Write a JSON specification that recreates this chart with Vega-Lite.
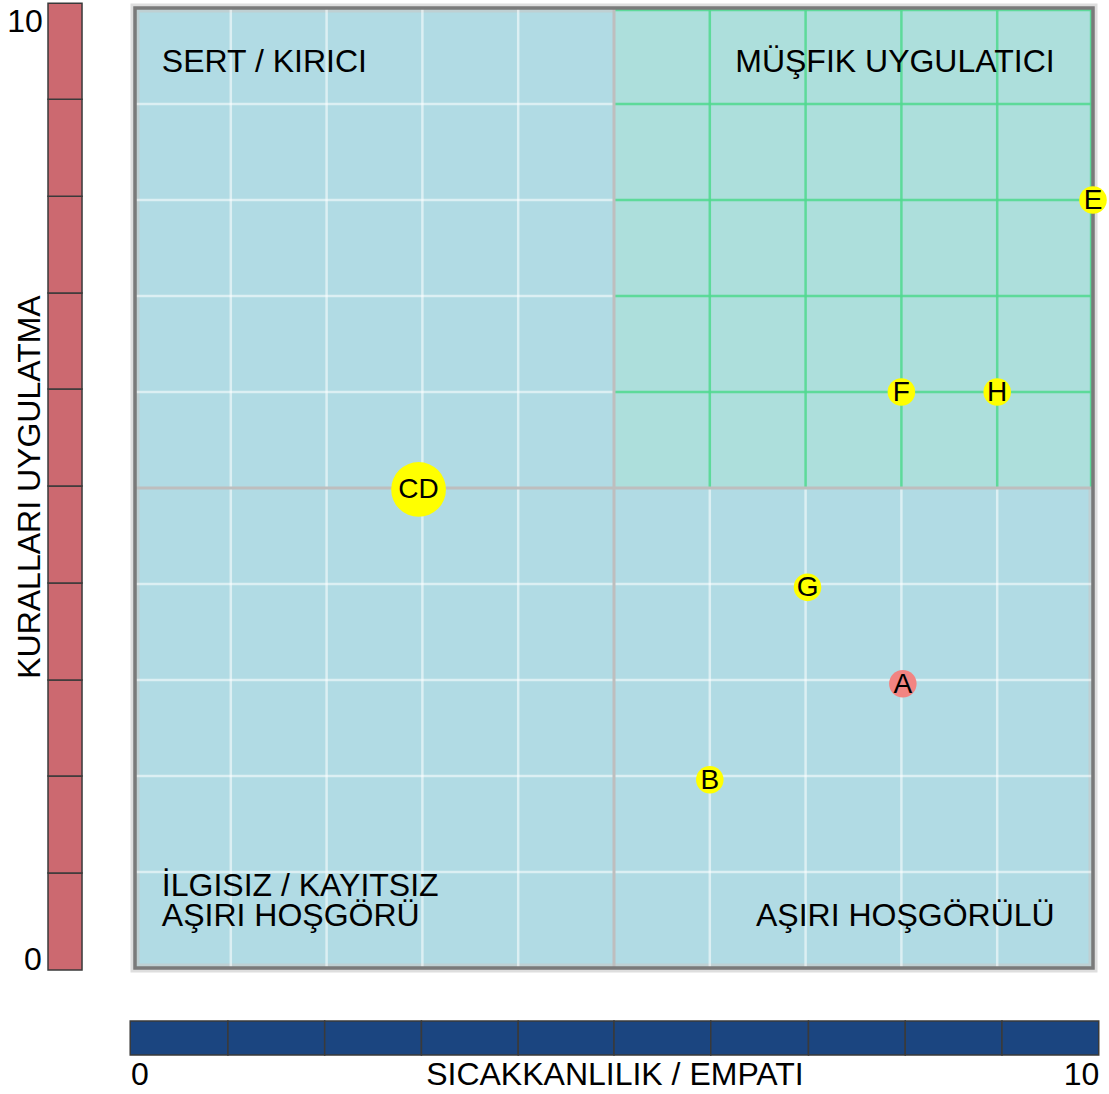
{
  "$schema": "https://vega.github.io/schema/vega-lite/v6.json",
  "width": 958,
  "height": 960,
  "autosize": {"type": "none"},
  "padding": {"left": 135, "top": 8, "right": 16, "bottom": 126},
  "config": {"view": {"stroke": null}, "font": "Liberation Sans"},
  "datasets": {
    "regions": [
      {"x": 0, "x2": 10, "y": 0, "y2": 10, "part": "plot"},
      {"x": 5, "x2": 10, "y": 5, "y2": 10, "part": "green"}
    ],
    "grid": [
      {"x": 1, "x2": 1, "y": 0, "y2": 10, "kind": "white"},
      {"x": 2, "x2": 2, "y": 0, "y2": 10, "kind": "white"},
      {"x": 3, "x2": 3, "y": 0, "y2": 10, "kind": "white"},
      {"x": 4, "x2": 4, "y": 0, "y2": 10, "kind": "white"},
      {"x": 6, "x2": 6, "y": 0, "y2": 5, "kind": "white"},
      {"x": 7, "x2": 7, "y": 0, "y2": 5, "kind": "white"},
      {"x": 8, "x2": 8, "y": 0, "y2": 5, "kind": "white"},
      {"x": 9, "x2": 9, "y": 0, "y2": 5, "kind": "white"},
      {"x": 0, "x2": 10, "y": 1, "y2": 1, "kind": "white"},
      {"x": 0, "x2": 10, "y": 2, "y2": 2, "kind": "white"},
      {"x": 0, "x2": 10, "y": 3, "y2": 3, "kind": "white"},
      {"x": 0, "x2": 10, "y": 4, "y2": 4, "kind": "white"},
      {"x": 0, "x2": 5, "y": 6, "y2": 6, "kind": "white"},
      {"x": 0, "x2": 5, "y": 7, "y2": 7, "kind": "white"},
      {"x": 0, "x2": 5, "y": 8, "y2": 8, "kind": "white"},
      {"x": 0, "x2": 5, "y": 9, "y2": 9, "kind": "white"},
      {"x": 6, "x2": 6, "y": 5, "y2": 10, "kind": "green"},
      {"x": 7, "x2": 7, "y": 5, "y2": 10, "kind": "green"},
      {"x": 8, "x2": 8, "y": 5, "y2": 10, "kind": "green"},
      {"x": 9, "x2": 9, "y": 5, "y2": 10, "kind": "green"},
      {"x": 9.98, "x2": 9.98, "y": 5, "y2": 10, "kind": "green"},
      {"x": 5, "x2": 10, "y": 6, "y2": 6, "kind": "green"},
      {"x": 5, "x2": 10, "y": 7, "y2": 7, "kind": "green"},
      {"x": 5, "x2": 10, "y": 8, "y2": 8, "kind": "green"},
      {"x": 5, "x2": 10, "y": 9, "y2": 9, "kind": "green"},
      {"x": 5, "x2": 10, "y": 9.98, "y2": 9.98, "kind": "green"},
      {"x": 5, "x2": 5, "y": 0, "y2": 10, "kind": "gray"},
      {"x": 0, "x2": 10, "y": 5, "y2": 5, "kind": "gray"}
    ],
    "bars": [
      {"x": -0.908, "x2": -0.553, "y": -0.02, "y2": 0.99, "bar": "rules"},
      {"x": -0.908, "x2": -0.553, "y": 0.99, "y2": 2.0, "bar": "rules"},
      {"x": -0.908, "x2": -0.553, "y": 2.0, "y2": 3.0, "bar": "rules"},
      {"x": -0.908, "x2": -0.553, "y": 3.0, "y2": 4.01, "bar": "rules"},
      {"x": -0.908, "x2": -0.553, "y": 4.01, "y2": 5.02, "bar": "rules"},
      {"x": -0.908, "x2": -0.553, "y": 5.02, "y2": 6.03, "bar": "rules"},
      {"x": -0.908, "x2": -0.553, "y": 6.03, "y2": 7.03, "bar": "rules"},
      {"x": -0.908, "x2": -0.553, "y": 7.03, "y2": 8.04, "bar": "rules"},
      {"x": -0.908, "x2": -0.553, "y": 8.04, "y2": 9.05, "bar": "rules"},
      {"x": -0.908, "x2": -0.553, "y": 9.05, "y2": 10.05, "bar": "rules"},
      {"x": -0.05, "x2": 0.97, "y": -0.906, "y2": -0.552, "bar": "warmth"},
      {"x": 0.97, "x2": 1.98, "y": -0.906, "y2": -0.552, "bar": "warmth"},
      {"x": 1.98, "x2": 2.99, "y": -0.906, "y2": -0.552, "bar": "warmth"},
      {"x": 2.99, "x2": 4.0, "y": -0.906, "y2": -0.552, "bar": "warmth"},
      {"x": 4.0, "x2": 5.0, "y": -0.906, "y2": -0.552, "bar": "warmth"},
      {"x": 5.0, "x2": 6.01, "y": -0.906, "y2": -0.552, "bar": "warmth"},
      {"x": 6.01, "x2": 7.03, "y": -0.906, "y2": -0.552, "bar": "warmth"},
      {"x": 7.03, "x2": 8.04, "y": -0.906, "y2": -0.552, "bar": "warmth"},
      {"x": 8.04, "x2": 9.05, "y": -0.906, "y2": -0.552, "bar": "warmth"},
      {"x": 9.05, "x2": 10.06, "y": -0.906, "y2": -0.552, "bar": "warmth"}
    ],
    "points": [
      {"label": "CD", "warmth": 2.96, "rules": 4.985, "count": 2, "group": "other"},
      {"label": "E", "warmth": 10, "rules": 8, "count": 1, "group": "other"},
      {"label": "F", "warmth": 8, "rules": 6, "count": 1, "group": "other"},
      {"label": "H", "warmth": 9, "rules": 6, "count": 1, "group": "other"},
      {"label": "G", "warmth": 7.02, "rules": 3.965, "count": 1, "group": "other"},
      {"label": "A", "warmth": 8.015, "rules": 2.96, "count": 1, "group": "self"},
      {"label": "B", "warmth": 6.0, "rules": 1.96, "count": 1, "group": "other"}
    ],
    "quadrants": [
      {"text": "SERT / KIRICI", "x": 0.28, "y": 9.33, "align": "left"},
      {"text": "MÜŞFIK UYGULATICI", "x": 9.6, "y": 9.33, "align": "right"},
      {"text": "İLGISIZ / KAYITSIZ\nAŞIRI HOŞGÖRÜ", "x": 0.28, "y": 0.75, "align": "left"},
      {"text": "AŞIRI HOŞGÖRÜLÜ", "x": 9.6, "y": 0.44, "align": "right"}
    ],
    "ticks": [
      {"text": "10", "x": -1.148, "y": 9.85},
      {"text": "0", "x": -1.065, "y": 0.08},
      {"text": "0", "x": 0.05, "y": -1.115},
      {"text": "10", "x": 9.88, "y": -1.115},
      {"text": "SICAKKANLILIK / EMPATI", "x": 5.01, "y": -1.115}
    ],
    "ytitle": [
      {"text": "KURALLARI UYGULATMA", "x": -1.096, "y": 5.01}
    ]
  },
  "layer": [
    {
      "data": {"name": "regions"},
      "transform": [{"filter": "datum.part == 'plot'"}],
      "mark": {"type": "rect", "fill": "#B1DBE4", "stroke": "#C8C8C8", "strokeWidth": 9, "strokeOpacity": 0.6},
      "encoding": {
        "x": {"field": "x", "type": "quantitative", "scale": {"domain": [0, 10], "nice": false, "zero": false}, "axis": null},
        "x2": {"field": "x2"},
        "y": {"field": "y", "type": "quantitative", "scale": {"domain": [0, 10], "nice": false, "zero": false}, "axis": null},
        "y2": {"field": "y2"}
      }
    },
    {
      "data": {"name": "grid"},
      "transform": [{"filter": "datum.kind == 'white'"}],
      "mark": {"type": "rule", "stroke": "#FFFFFF", "strokeOpacity": 0.55, "strokeWidth": 2.5},
      "encoding": {
        "x": {"field": "x", "type": "quantitative"},
        "x2": {"field": "x2"},
        "y": {"field": "y", "type": "quantitative"},
        "y2": {"field": "y2"}
      }
    },
    {
      "data": {"name": "regions"},
      "transform": [{"filter": "datum.part == 'green'"}],
      "mark": {"type": "rect", "fill": "#ADDFDC"},
      "encoding": {
        "x": {"field": "x", "type": "quantitative"},
        "x2": {"field": "x2"},
        "y": {"field": "y", "type": "quantitative"},
        "y2": {"field": "y2"}
      }
    },
    {
      "data": {"name": "grid"},
      "transform": [{"filter": "datum.kind == 'green'"}],
      "mark": {"type": "rule", "stroke": "#4FD98E", "strokeOpacity": 0.85, "strokeWidth": 2.5},
      "encoding": {
        "x": {"field": "x", "type": "quantitative"},
        "x2": {"field": "x2"},
        "y": {"field": "y", "type": "quantitative"},
        "y2": {"field": "y2"}
      }
    },
    {
      "data": {"name": "grid"},
      "transform": [{"filter": "datum.kind == 'gray'"}],
      "mark": {"type": "rule", "stroke": "#BEBEBE", "strokeWidth": 3},
      "encoding": {
        "x": {"field": "x", "type": "quantitative"},
        "x2": {"field": "x2"},
        "y": {"field": "y", "type": "quantitative"},
        "y2": {"field": "y2"}
      }
    },
    {
      "data": {"name": "regions"},
      "transform": [{"filter": "datum.part == 'plot'"}],
      "mark": {"type": "rect", "fill": null, "stroke": "#7A7A7A", "strokeWidth": 3.5},
      "encoding": {
        "x": {"field": "x", "type": "quantitative"},
        "x2": {"field": "x2"},
        "y": {"field": "y", "type": "quantitative"},
        "y2": {"field": "y2"}
      }
    },
    {
      "data": {"name": "bars"},
      "mark": {"type": "rect", "stroke": "#3A3A3A", "strokeWidth": 1.5},
      "encoding": {
        "x": {"field": "x", "type": "quantitative"},
        "x2": {"field": "x2"},
        "y": {"field": "y", "type": "quantitative"},
        "y2": {"field": "y2"},
        "fill": {"field": "bar", "type": "nominal", "scale": {"domain": ["rules", "warmth"], "range": ["#CC6970", "#1B4580"]}, "legend": null}
      }
    },
    {
      "data": {"name": "points"},
      "mark": {"type": "circle", "opacity": 1},
      "encoding": {
        "x": {"field": "warmth", "type": "quantitative"},
        "y": {"field": "rules", "type": "quantitative"},
        "size": {"field": "count", "type": "quantitative", "scale": {"domain": [1, 2], "range": [760, 3000]}, "legend": null},
        "color": {"field": "group", "type": "nominal", "scale": {"domain": ["other", "self"], "range": ["#FFFF00", "#F28482"]}, "legend": null}
      }
    },
    {
      "data": {"name": "points"},
      "mark": {"type": "text", "fontSize": 28, "color": "#000000", "baseline": "middle", "align": "center", "dy": 1},
      "encoding": {
        "x": {"field": "warmth", "type": "quantitative"},
        "y": {"field": "rules", "type": "quantitative"},
        "text": {"field": "label"}
      }
    },
    {
      "data": {"name": "quadrants"},
      "transform": [{"filter": "datum.align == 'left'"}],
      "mark": {"type": "text", "fontSize": 32, "color": "#000000", "baseline": "alphabetic", "align": "left", "lineBreak": "\n", "lineHeight": 30},
      "encoding": {
        "x": {"field": "x", "type": "quantitative"},
        "y": {"field": "y", "type": "quantitative"},
        "text": {"field": "text"}
      }
    },
    {
      "data": {"name": "quadrants"},
      "transform": [{"filter": "datum.align == 'right'"}],
      "mark": {"type": "text", "fontSize": 32, "color": "#000000", "baseline": "alphabetic", "align": "right", "lineBreak": "\n", "lineHeight": 30},
      "encoding": {
        "x": {"field": "x", "type": "quantitative"},
        "y": {"field": "y", "type": "quantitative"},
        "text": {"field": "text"}
      }
    },
    {
      "data": {"name": "ticks"},
      "mark": {"type": "text", "fontSize": 32, "color": "#000000", "baseline": "middle", "align": "center"},
      "encoding": {
        "x": {"field": "x", "type": "quantitative"},
        "y": {"field": "y", "type": "quantitative"},
        "text": {"field": "text"}
      }
    },
    {
      "data": {"name": "ytitle"},
      "mark": {"type": "text", "fontSize": 32, "color": "#000000", "baseline": "middle", "align": "center", "angle": 270},
      "encoding": {
        "x": {"field": "x", "type": "quantitative"},
        "y": {"field": "y", "type": "quantitative"},
        "text": {"field": "text"}
      }
    }
  ]
}
